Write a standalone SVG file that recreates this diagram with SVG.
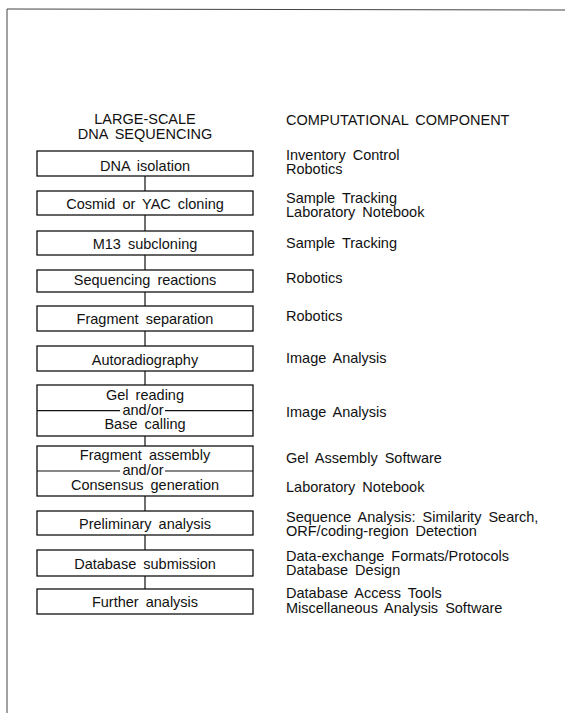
<svg xmlns="http://www.w3.org/2000/svg" width="565" height="713" viewBox="0 0 565 713">
<style>
.t{font-family:"Liberation Sans",Arial,sans-serif;font-size:14.5px;word-spacing:3px;fill:#111}
.c{text-anchor:middle}
.b{fill:none;stroke:#111;stroke-width:1.3}
.l{stroke:#111;stroke-width:1.2;fill:none}
</style>
<rect width="565" height="713" fill="#fff"/>
<g id="frame"><path d="M7 9 L565 10 M7 9 L7 713" stroke="#444" stroke-width="1" fill="none"/></g>
<g id="headers">
<text class="t c" x="145" y="124">LARGE-SCALE</text>
<text class="t c" x="145" y="139">DNA SEQUENCING</text>
<text class="t" x="286" y="125">COMPUTATIONAL COMPONENT</text>
</g>
<g id="connectors">
<path class="l" d="M145 176V191M145 215V231M145 255V270M145 292V306M145 331V346M145 371V385M145 436V446M145 496V511M145 535V550M145 576V589"/>
</g>
<g id="n1"><rect class="b" x="37" y="151" width="216" height="25"/><text class="t c" x="145" y="170.5">DNA isolation</text></g>
<g id="n2"><rect class="b" x="37" y="191" width="216" height="24"/><text class="t c" x="145" y="209">Cosmid or YAC cloning</text></g>
<g id="n3"><rect class="b" x="37" y="231" width="216" height="24"/><text class="t c" x="145" y="248.5">M13 subcloning</text></g>
<g id="n4"><rect class="b" x="37" y="270" width="216" height="22"/><text class="t c" x="145" y="284.5">Sequencing reactions</text></g>
<g id="n5"><rect class="b" x="37" y="306" width="216" height="25"/><text class="t c" x="145" y="323.5">Fragment separation</text></g>
<g id="n6"><rect class="b" x="37" y="346" width="216" height="25"/><text class="t c" x="145" y="364.5">Autoradiography</text></g>
<g id="n7"><rect class="b" x="37" y="385" width="216" height="51"/>
<path class="l" d="M37 410.7H120M165 410.7H253"/>
<text class="t c" x="145" y="400">Gel reading</text><text class="t c" x="143" y="414.5">and/or</text><text class="t c" x="145" y="428.5">Base calling</text></g>
<g id="n8"><rect class="b" x="37" y="446" width="216" height="50"/>
<path class="l" d="M37 471H120M165 471H253"/>
<text class="t c" x="145" y="460">Fragment assembly</text><text class="t c" x="143" y="474.5">and/or</text><text class="t c" x="145" y="489.5">Consensus generation</text></g>
<g id="n9"><rect class="b" x="37" y="511" width="216" height="24"/><text class="t c" x="145" y="528.5">Preliminary analysis</text></g>
<g id="n10"><rect class="b" x="37" y="550" width="216" height="26"/><text class="t c" x="145" y="568.5">Database submission</text></g>
<g id="n11"><rect class="b" x="37" y="589" width="216" height="25"/><text class="t c" x="145" y="607">Further analysis</text></g>
<g id="components">
<text class="t" x="286" y="160">Inventory Control</text>
<text class="t" x="286" y="174.3">Robotics</text>
<text class="t" x="286" y="202.7">Sample Tracking</text>
<text class="t" x="286" y="216.7">Laboratory Notebook</text>
<text class="t" x="286" y="248.3">Sample Tracking</text>
<text class="t" x="286" y="282.7">Robotics</text>
<text class="t" x="286" y="321">Robotics</text>
<text class="t" x="286" y="362.7">Image Analysis</text>
<text class="t" x="286" y="416.7">Image Analysis</text>
<text class="t" x="286" y="462.7">Gel Assembly Software</text>
<text class="t" x="286" y="492.3">Laboratory Notebook</text>
<text class="t" x="286" y="521.7">Sequence Analysis: Similarity Search,</text>
<text class="t" x="286" y="536">ORF/coding-region Detection</text>
<text class="t" x="286" y="560.7">Data-exchange Formats/Protocols</text>
<text class="t" x="286" y="575">Database Design</text>
<text class="t" x="286" y="598.3">Database Access Tools</text>
<text class="t" x="286" y="612.7">Miscellaneous Analysis Software</text>
</g>
</svg>
